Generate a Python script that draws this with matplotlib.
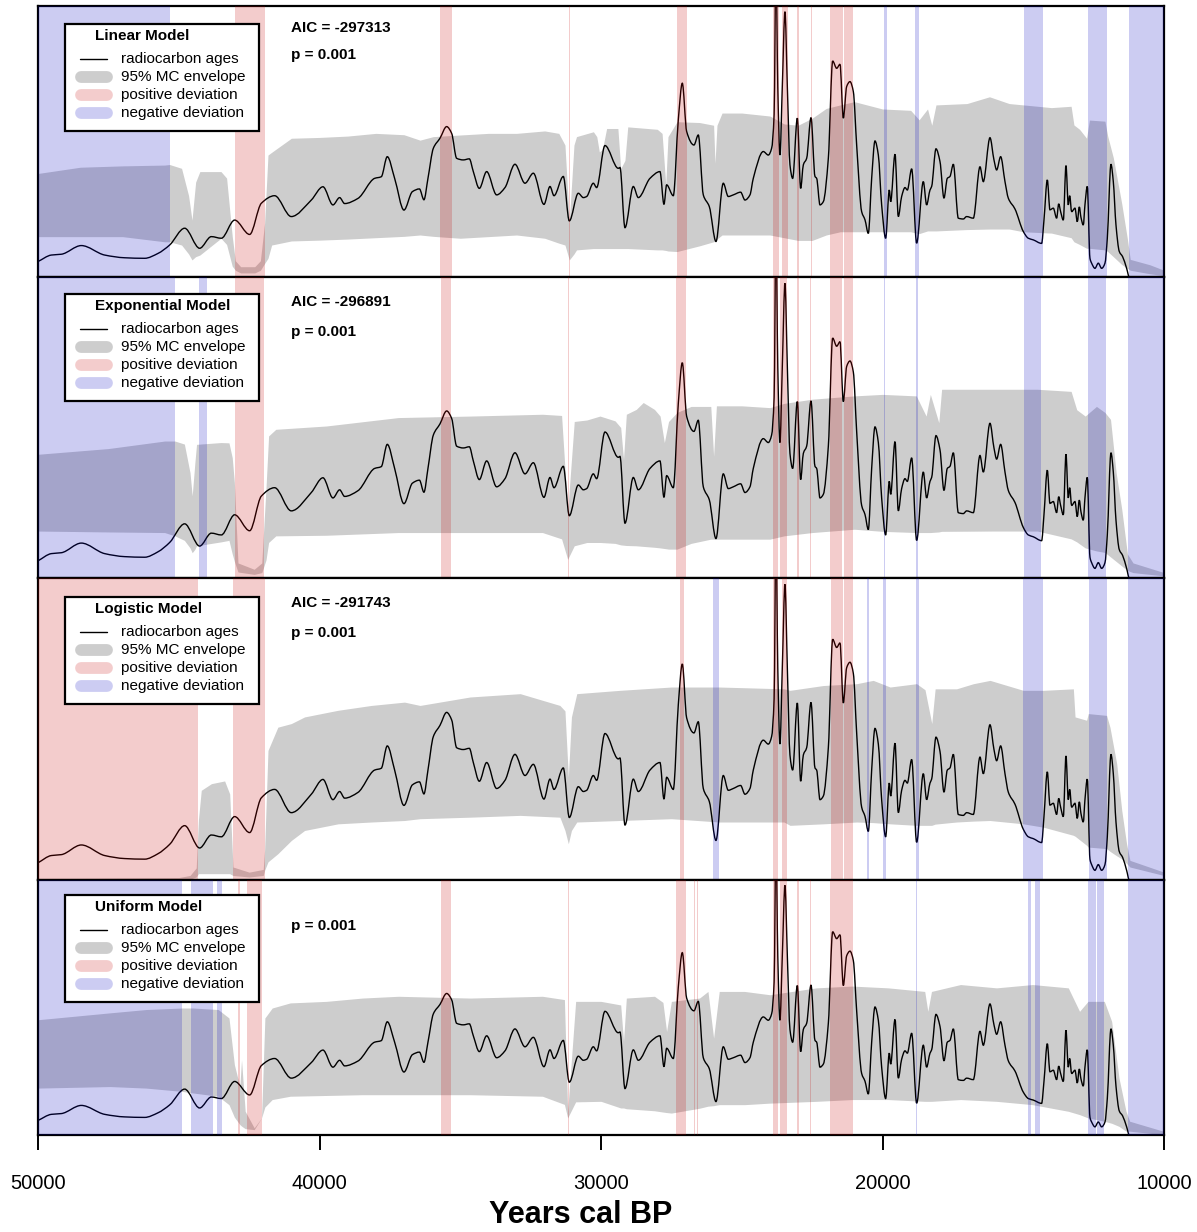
import numpy as np
import matplotlib.pyplot as plt
from matplotlib.lines import Line2D
from matplotlib.patches import Rectangle, PathPatch
from matplotlib.path import Path

plt.rcParams['font.family'] = ['Liberation Sans', 'DejaVu Sans']

# summed probability of the calibrated radiocarbon ages (scaled so the panel top is 100)
spd_years = [50000, 49526, 49171, 48461, 47632, 46922, 46211, 45738, 45323, 44790,
             44258, 43843, 43488, 43014, 42482, 42067, 41594, 41002, 40291, 39877,
             39522, 39285, 39107, 38634, 38042, 37805, 37592, 37331, 37000, 36700,
             36450, 36290, 36147, 35956, 35720, 35483, 35305, 35128, 34891, 34678,
             34536, 34322, 34062, 33707, 33411, 33056, 32700, 32404, 32026, 31812,
             31670, 31339, 31126, 30806, 30628, 30510, 30273, 30155, 29859, 29385,
             29326, 29148, 28852, 28675, 28260, 27905, 27763, 27668, 27432, 27254,
             27112, 26958, 26698, 26544, 26366, 26153, 25916, 25656, 25478, 25300,
             25040, 24886, 24708, 24590, 24235, 24057, 23939, 23850, 23785, 23720,
             23643, 23560, 23465, 23380, 23288, 23191, 23026, 22907, 22812, 22694,
             22540, 22398, 22339, 22220, 22102, 21924, 21770, 21628, 21510, 21392,
             21273, 21155, 21036, 20918, 20740, 20622, 20504, 20385, 20267, 20148,
             20030, 19888, 19758, 19710, 19556, 19438, 19320, 19201, 19118, 18964,
             18787, 18550, 18432, 18313, 18254, 18100, 17958, 17816, 17698, 17603,
             17484, 17307, 17130, 17011, 16774, 16537, 16419, 16182, 16040, 15945,
             15803, 15649, 15531, 15294, 14998, 14820, 14643, 14347, 14264, 14145,
             14051, 13932, 13814, 13740, 13672, 13577, 13482, 13400, 13350, 13281,
             13163, 13080, 13009, 12950, 12867, 12808, 12725, 12630, 12571, 12453,
             12334, 12216, 12097, 12014, 11884, 11801, 11706, 11588, 11470, 11328,
             11233, 10000]
spd_vals = [5.7, 8.1, 8.4, 11.6, 8.1, 7.1, 6.9, 8.7, 11.8, 18.0,
            10.6, 14.9, 14.3, 21.0, 15.7, 27.2, 30.0, 22.3, 28.4, 33.3,
            26.6, 29.3, 27.1, 29.0, 36.4, 37.0, 44.4, 36.4, 24.7, 31.5,
            32.5, 28.5, 36.4, 47.5, 51.2, 55.5, 53.0, 43.8, 43.2, 43.6,
            38.9, 32.7, 38.9, 30.3, 33.0, 41.6, 34.6, 38.3, 26.8, 33.4,
            30.0, 37.1, 20.7, 30.9, 29.3, 29.7, 34.6, 33.0, 48.5, 40.1,
            40.4, 18.2, 33.4, 29.3, 36.4, 38.9, 26.8, 34.0, 30.0, 58.0,
            71.5, 53.7, 48.7, 52.4, 30.3, 26.0, 13.1, 34.6, 29.7, 30.3,
            31.3, 28.4, 30.3, 36.4, 46.3, 45.0, 47.5, 60.0, 118.0, 70.0,
            45.0, 70.0, 97.9, 70.0, 41.4, 36.4, 58.6, 32.7, 41.4, 43.8,
            58.8, 37.1, 36.4, 26.6, 27.8, 43.8, 79.7, 77.0, 78.5, 58.6,
            70.3, 72.1, 68.4, 48.7, 24.1, 21.1, 16.1, 36.4, 50.2, 45.0,
            26.6, 14.3, 32.1, 27.8, 45.3, 22.3, 29.7, 33.0, 32.1, 39.9,
            12.5, 35.2, 26.6, 32.1, 33.4, 47.3, 42.6, 29.1, 36.4, 37.1,
            41.6, 21.7, 21.4, 22.3, 21.7, 40.7, 35.2, 51.4, 43.2, 39.5,
            44.4, 35.2, 29.1, 25.1, 16.8, 14.3, 13.7, 12.4, 21.0, 35.8,
            24.8, 25.4, 21.7, 27.0, 24.1, 21.0, 41.1, 26.6, 30.0, 24.1,
            25.4, 20.4, 25.9, 22.0, 19.2, 26.6, 33.4, 6.9, 5.1, 3.2,
            5.1, 3.2, 5.1, 14.3, 41.6, 35.2, 19.2, 9.4, 7.5, 3.2,
            0.0, 0.0]

# 95% Monte Carlo envelopes of each fitted model
lin_years = [50000, 48500, 47000, 45500, 45323, 44900, 44650, 44530, 44400, 44250,
             43500, 43300, 43100, 42990, 42800, 42300, 42100, 41950, 41830, 41700,
             41000, 40000, 39000, 38000, 37000, 36430, 35956, 35000, 34000, 33000,
             32000, 31500, 31280, 31126, 30960, 30870, 30270, 30150, 30060, 29950,
             29800, 29400, 29300, 29150, 29050, 28000, 27830, 27700, 27620, 27300,
             26500, 26000, 25950, 25880, 25700, 25000, 24000, 23500, 23000, 22500,
             22000, 21500, 21000, 20000, 19000, 18700, 18400, 18250, 18100, 17000,
             16200, 15500, 15000, 14000, 13300, 13200, 13000, 12750, 12650, 12100,
             12000, 11800, 11500, 11300, 11200, 10500, 10000]
lin_upper = [38.2, 40.5, 41.0, 41.3, 41.5, 40.1, 30.0, 21.0, 35.0, 38.9,
             38.9, 36.5, 15.0, 6.0, 3.8, 3.8, 6.0, 20.0, 45.0, 46.0,
             51.2, 51.5, 52.0, 53.0, 52.5, 50.5, 51.8, 52.4, 53.0, 53.0,
             53.9, 53.0, 48.7, 20.4, 48.7, 51.8, 53.6, 51.8, 46.2, 47.0,
             54.8, 54.8, 40.0, 43.0, 55.4, 54.5, 53.0, 34.0, 51.8, 57.3,
             57.0, 56.0, 42.0, 56.0, 60.5, 60.5, 59.4, 56.5, 56.0, 58.6,
             62.2, 63.5, 64.7, 62.0, 61.5, 58.0, 62.0, 56.0, 63.5, 64.0,
             66.5, 64.0, 63.5, 62.5, 63.0, 56.1, 54.5, 51.2, 57.9, 57.5,
             52.0, 44.0, 27.0, 14.0, 6.5, 4.5, 2.5]
lin_lower = [14.9, 14.9, 14.9, 13.0, 13.0, 11.8, 8.5, 6.3, 7.5, 8.1,
             14.3, 12.0, 4.0, 2.5, 1.5, 1.5, 2.5, 5.0, 6.9, 11.8,
             13.3, 13.6, 14.0, 14.5, 15.0, 15.5, 15.0, 14.3, 14.9, 15.5,
             14.3, 12.5, 11.8, 6.3, 8.5, 10.0, 10.5, 10.5, 10.5, 10.5,
             10.5, 10.5, 10.5, 10.5, 10.5, 10.0, 10.0, 9.8, 9.6, 9.4,
             11.5, 13.0, 13.5, 14.0, 15.5, 15.5, 15.5, 14.5, 13.5, 13.5,
             15.5, 16.7, 16.7, 16.7, 16.7, 16.0, 17.0, 17.0, 17.0, 17.5,
             17.7, 17.7, 16.7, 16.2, 14.5, 13.0, 12.0, 10.6, 10.6, 10.0,
             9.4, 7.5, 4.6, 3.2, 2.5, 1.2, 0.5]

exp_years = [50000, 47500, 45500, 45136, 44800, 44600, 44522, 44430, 44368, 43500,
             43216, 43100, 43024, 42896, 42320, 42050, 41900, 41808, 41552, 39760,
             37200, 34640, 32080, 31400, 31184, 30950, 30500, 30036, 29500, 29300,
             29200, 29100, 28750, 28500, 28100, 27900, 27750, 27600, 27300, 26800,
             26100, 26000, 25900, 25000, 24000, 23500, 22500, 21000, 20000, 18800,
             18450, 18300, 18000, 17900, 16000, 14500, 13300, 13100, 12800, 12400,
             12100, 11900, 11700, 11500, 11300, 11100, 10000]
exp_upper = [41.1, 43.0, 45.5, 45.5, 44.5, 35.0, 27.3, 38.0, 44.4, 45.0,
             44.9, 40.0, 31.7, 5.0, 2.9, 5.0, 30.0, 47.2, 49.4, 50.5,
             53.3, 53.8, 54.4, 54.0, 22.0, 52.0, 52.5, 53.8, 52.2, 50.0,
             39.4, 54.4, 56.0, 58.3, 56.0, 53.8, 45.0, 52.0, 55.0, 57.0,
             57.0, 40.5, 57.2, 57.2, 56.6, 58.0, 59.4, 60.5, 61.0, 60.5,
             53.8, 61.0, 51.6, 62.7, 62.7, 62.7, 62.0, 55.9, 53.8, 57.0,
             55.0, 52.7, 35.0, 22.8, 8.0, 5.0, 1.8]
exp_lower = [15.6, 15.3, 15.1, 14.0, 12.5, 10.0, 8.4, 9.5, 10.7, 12.0,
             12.5, 8.0, 5.5, 2.0, 1.2, 1.8, 6.0, 11.8, 14.0, 14.2,
             15.1, 15.1, 15.1, 13.0, 6.2, 10.7, 11.8, 11.8, 11.5, 11.0,
             10.9, 10.8, 10.7, 10.5, 10.2, 10.0, 9.8, 9.6, 9.6, 11.5,
             12.9, 12.9, 12.9, 12.9, 12.9, 14.0, 15.1, 16.2, 15.5, 15.1,
             15.1, 15.1, 15.3, 15.5, 15.6, 15.6, 13.0, 12.0, 10.0, 9.0,
             8.5, 7.0, 5.5, 4.0, 2.5, 1.8, 0.7]

log_years = [50000, 45000, 44600, 44380, 44300, 44200, 43840, 43370, 43190, 43074,
             42500, 42000, 41950, 41830, 41480, 41000, 40530, 39340, 38160, 36980,
             36430, 34650, 32870, 31460, 31280, 31160, 31050, 30860, 29330, 27500,
             25800, 23500, 23286, 22100, 20920, 20330, 19730, 18790, 18490, 18250,
             18130, 17370, 16770, 16180, 14998, 14290, 13220, 13160, 12750, 12690,
             12040, 11920, 11680, 11500, 11330, 11210, 10000]
log_upper = [0.5, 0.8, 1.5, 4.0, 20.0, 29.7, 31.9, 32.8, 28.5, 4.3,
             2.6, 3.5, 10.0, 42.9, 50.6, 51.8, 54.0, 56.2, 57.8, 58.9,
             57.8, 60.6, 61.7, 57.8, 56.0, 34.1, 54.0, 61.7, 62.8, 63.9,
             63.9, 63.3, 62.8, 64.4, 65.0, 66.1, 63.9, 65.0, 63.0, 51.8,
             63.3, 63.3, 65.0, 66.1, 62.8, 62.8, 63.3, 54.0, 52.9, 55.1,
             54.5, 50.6, 38.5, 23.0, 12.0, 6.5, 2.6]
log_lower = [0.0, 0.1, 0.3, 1.0, 2.1, 2.1, 2.1, 2.1, 2.1, 1.5,
             1.0, 1.5, 3.2, 6.0, 8.7, 13.1, 16.4, 18.6, 19.2, 19.7,
             20.3, 20.8, 21.4, 20.8, 16.4, 12.0, 16.4, 19.2, 19.7, 20.3,
             19.2, 19.2, 18.1, 18.6, 19.2, 19.0, 18.6, 18.1, 18.1, 18.1,
             18.5, 19.2, 19.5, 19.7, 18.6, 17.5, 14.8, 14.5, 11.5, 10.9,
             10.4, 9.5, 8.0, 7.0, 5.5, 4.3, 1.5]

uni_years = [50000, 47440, 46160, 44880, 44500, 43600, 43216, 43024, 42830, 42770,
             42640, 42320, 42060, 41940, 41680, 41040, 39760, 38480, 37200, 34640,
             32080, 31300, 31184, 30900, 30000, 29300, 29200, 29100, 28100, 27800,
             27670, 27500, 26500, 26200, 26000, 25800, 24900, 24000, 22350, 21080,
             19800, 18500, 18390, 18260, 17230, 15950, 14670, 13400, 13000, 12700,
             12120, 11860, 11600, 11350, 11220, 10000]
uni_upper = [45.2, 47.9, 49.2, 49.8, 49.8, 49.2, 45.9, 27.6, 19.0, 29.5,
             9.3, 2.8, 6.7, 45.9, 49.8, 51.8, 52.4, 53.7, 54.4, 53.7,
             54.4, 53.1, 9.3, 52.4, 52.4, 51.0, 36.7, 53.7, 54.4, 52.0,
             40.6, 52.4, 53.7, 56.3, 38.0, 56.3, 56.3, 55.0, 57.7, 58.4,
             57.7, 56.3, 48.5, 56.3, 59.0, 57.7, 59.0, 57.7, 48.5, 52.4,
             52.4, 44.6, 22.4, 9.3, 5.4, 1.4]
uni_lower = [18.4, 19.0, 18.4, 17.1, 16.5, 15.2, 11.9, 7.0, 4.1, 3.5,
             2.5, 2.1, 6.7, 11.0, 13.9, 15.2, 15.5, 15.8, 15.8, 15.8,
             15.2, 12.0, 6.7, 13.0, 13.2, 10.6, 10.6, 10.3, 9.5, 9.0,
             8.8, 8.6, 10.5, 11.3, 11.5, 11.9, 11.9, 12.5, 13.2, 13.9,
             13.9, 13.2, 13.2, 13.2, 13.9, 13.2, 11.9, 9.3, 8.0, 6.7,
             5.4, 4.6, 3.4, 1.5, 1.5, 0.1]

# periods where the ages fall above (pos) or below (neg) the envelope
lin_pos = [(42991, 41925), (35720, 35282), (31137, 31102), (27313, 26958), (23880, 23678),
           (23584, 23370), (23040, 22960), (22552, 22493), (21865, 21415), (21356, 21036)]
lin_neg = [(50000, 45323), (19935, 19852), (18834, 18716), (14963, 14311), (12689, 12038),
           (11233, 10000)]
exp_pos = [(42986, 41962), (35690, 35344), (31160, 31130), (27322, 26964), (23892, 23700),
           (23636, 23380), (23022, 22970), (22570, 22530), (21870, 21434), (21383, 21038)]
exp_neg = [(50000, 45136), (44266, 44010), (19962, 19898), (18823, 18746), (14958, 14356),
           (12692, 12078), (11284, 10000)]
log_pos = [(50000, 44317), (43074, 41949), (27195, 27053), (23880, 23702), (23584, 23383),
           (21842, 21415), (21356, 21060)]
log_neg = [(29160, 29130), (26011, 25810), (20563, 20480), (19971, 19876), (18822, 18716),
           (15022, 14311), (12665, 12038), (11268, 10000)]
uni_pos = [(42896, 42832), (42576, 42038), (35690, 35344), (31160, 31130), (27322, 26990),
           (26690, 26660), (26580, 26550), (23892, 23700), (23636, 23380), (23022, 22958),
           (22570, 22530), (21870, 21380), (21360, 21038)]
uni_neg = [(50000, 44880), (44560, 43766), (43638, 43446), (18820, 18780), (14830, 14727),
           (14574, 14394), (12692, 12420), (12390, 12116), (11284, 10000)]

model_names = ['Linear Model', 'Exponential Model', 'Logistic Model', 'Uniform Model']
aic_texts = ['AIC = -297313', 'AIC = -296891', 'AIC = -291743', None]
p_text = 'p = 0.001'
key_labels = ['radiocarbon ages', '95% MC envelope', 'positive deviation', 'negative deviation']
year_ticks = [50000, 40000, 30000, 20000, 10000]

envelopes = [(lin_years, lin_upper, lin_lower), (exp_years, exp_upper, exp_lower),
             (log_years, log_upper, log_lower), (uni_years, uni_upper, uni_lower)]
positive = [lin_pos, exp_pos, log_pos, uni_pos]
negative = [lin_neg, exp_neg, log_neg, uni_neg]

GREY = '#cdcdcd'
POS = (0.78, 0.0, 0.0, 0.2)
NEG = (0.0, 0.0, 0.75, 0.2)


def smooth_curve(xs, ys):
    # monotone cubic Hermite segments written as Bezier curves, so peaks don't overshoot
    x = np.asarray(xs[::-1], float)
    y = np.asarray(ys[::-1], float)
    h = np.diff(x)
    d = np.diff(y) / h
    m = np.zeros_like(y)
    m[0], m[-1] = d[0], d[-1]
    for k in range(1, len(x) - 1):
        if d[k - 1] * d[k] > 0:
            w1 = 2 * h[k] + h[k - 1]
            w2 = h[k] + 2 * h[k - 1]
            m[k] = (w1 + w2) / (w1 / d[k - 1] + w2 / d[k])
    verts = [(x[0], y[0])]
    codes = [Path.MOVETO]
    for k in range(len(x) - 1):
        verts += [(x[k] + h[k] / 3, y[k] + m[k] * h[k] / 3),
                  (x[k + 1] - h[k] / 3, y[k + 1] - m[k + 1] * h[k] / 3),
                  (x[k + 1], y[k + 1])]
        codes += [Path.CURVE4] * 3
    return Path(verts, codes)


W, H = 1197, 1232
X0, X1 = 38, 1164
rows = [(6, 277), (277, 578), (578, 880), (880, 1135)]
key_tops = [24, 294, 597, 895]

fig = plt.figure(figsize=(W / 100, H / 100), dpi=100)
spd_path = smooth_curve(spd_years, spd_vals)

for i, (top, bot) in enumerate(rows):
    ax = fig.add_axes([X0 / W, 1 - bot / H, (X1 - X0) / W, (bot - top) / H])
    yrs, up, lo = envelopes[i]
    ax.fill_between(yrs, lo, up, color=GREY, lw=0, zorder=1)
    ax.add_patch(PathPatch(spd_path, facecolor='none', edgecolor='black', lw=1.0, zorder=2))
    for a, b in positive[i]:
        ax.axvspan(b, a, color=POS, lw=0, zorder=3)
    for a, b in negative[i]:
        ax.axvspan(b, a, color=NEG, lw=0, zorder=3)
    ax.set_xlim(50000, 10000)
    ax.set_ylim(0, 100)
    ax.set_yticks([])
    for s in ax.spines.values():
        s.set_linewidth(1.6)
    if i < 3:
        ax.set_xticks([])
    else:
        ax.set_xticks(year_ticks)
        ax.set_xticklabels([str(t) for t in year_ticks], fontsize=14.5)
        ax.tick_params(axis='x', length=11, width=1.4, pad=17)

    # pixel -> axes fraction helpers
    fx = lambda px: (px - X0) / (X1 - X0)
    fy = lambda py, t=top, b=bot: (b - py) / (b - t)

    kt = key_tops[i]
    kb = kt + 107
    ax.add_patch(Rectangle((fx(65), fy(kb)), fx(259) - fx(65), fy(kt) - fy(kb),
                           transform=ax.transAxes, facecolor='white', edgecolor='black',
                           lw=1.6, zorder=10))
    ax.text(fx(95), fy(kt + 12), model_names[i], transform=ax.transAxes, fontsize=11,
            fontweight='bold', ha='left', va='center', zorder=11)
    key_styles = [dict(color='black', lw=1.0), dict(color=GREY, lw=8.5),
                  dict(color=POS, lw=8.5), dict(color=NEG, lw=8.5)]
    for j, lab in enumerate(key_labels):
        ry = fy(kt + 35 + 18 * j)
        if j == 0:
            xs = [fx(80), fx(107)]
        else:
            xs = [fx(81), fx(107)]
        ax.add_line(Line2D(xs, [ry, ry], transform=ax.transAxes, solid_capstyle='round',
                           zorder=11, **key_styles[j]))
        ax.text(fx(121), ry, lab, transform=ax.transAxes, fontsize=11,
                ha='left', va='center', zorder=11)

    if aic_texts[i]:
        ax.text(fx(291), 0.918, aic_texts[i], transform=ax.transAxes, fontsize=11,
                fontweight='bold', ha='left', va='center')
    ax.text(fx(291), 0.818, p_text, transform=ax.transAxes, fontsize=11,
            fontweight='bold', ha='left', va='center')

fig.text(581 / W, 1 - 1215 / H, 'Years cal BP', fontsize=22, fontweight='bold',
         ha='center', va='center')

fig.savefig('out.png', dpi=100)
